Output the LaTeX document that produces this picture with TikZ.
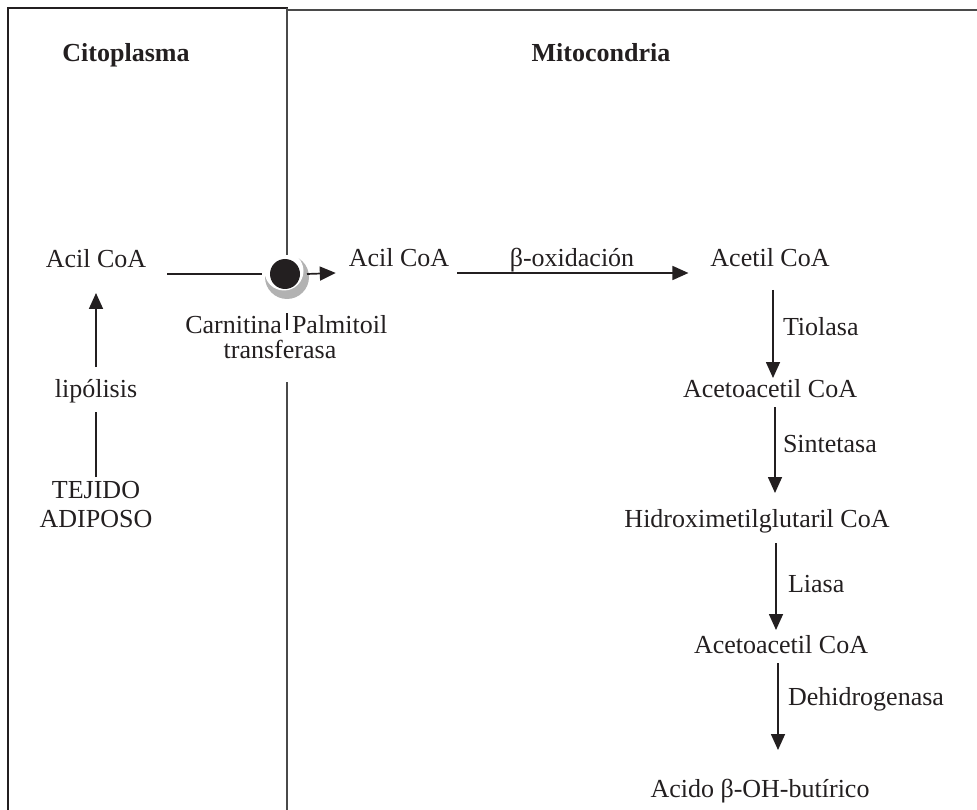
\documentclass[tikz,border=0pt]{standalone}
\usepackage{fontspec}
\setmainfont{Liberation Serif}
\usetikzlibrary{arrows.meta}
\definecolor{ink}{HTML}{231F20}
\definecolor{lineg}{HTML}{4A4A4A}
\begin{document}
\begin{tikzpicture}[x=1pt,y=-1pt,
  every node/.style={inner sep=0pt,outer sep=0pt,text=ink,font=\fontsize{26}{30}\selectfont,anchor=base,text height=18pt,text depth=6pt},
  ttl/.style={font=\fontsize{26}{30}\selectfont\bfseries},
  conn/.style={draw=ink,line width=1.7pt},
  arr/.style={conn,-{Triangle[width=14pt,length=16pt]}},
  frame/.style={line width=2.6pt}]
\useasboundingbox (0,0) rectangle (977,810);
% carnitine transporter (drawn first)
\fill[gray!60] (287,277) circle (22);
\fill[white] (284,271) circle (19.5);
\node[circle,fill=ink,minimum size=30pt,text height=,text depth=,anchor=center] (cpt) at (285,274) {};
% frame
\draw[frame,draw=ink] (8,810) -- (8,8) -- (288,8);
\draw[frame,draw=lineg] (288,10) -- (977,10);
\draw[line width=2pt,draw=lineg] (287,8) -- (287,255);
\draw[line width=1.6pt,draw=ink] (287,313) -- (287,330);
\draw[line width=2pt,draw=lineg] (287,382) -- (287,810);
% titles
\node[ttl] (cito) at (126,62) {Citoplasma};
\node[ttl] (mito) at (601,62) {Mitocondria};
% left column
\node (acil1) at (96,268) {Acil CoA};
\node (lip) at (96,397) {lipólisis};
\node (tej1) at (96,498) {TEJIDO};
\node (tej2) at (96,527) {ADIPOSO};
% transporter label
\node (cl1) [anchor=base east] at (282,333) {Carnitina};
\node (cl1b) [anchor=base west] at (292,333) {Palmitoil};
\node (cl2) at (280,358) {transferasa};
% right chain
\node (acil2) at (399,267) {Acil CoA};
\node (box) at (572,267) {β-oxidación};
\node (acetil) at (770,267) {Acetil CoA};
\node (tio) [anchor=base west] at (783,335) {Tiolasa};
\node (aa1) at (770,397) {Acetoacetil CoA};
\node (sin) [anchor=base west] at (783,452) {Sintetasa};
\node (hmg) at (757,527) {Hidroximetilglutaril CoA};
\node (lia) [anchor=base west] at (788,592) {Liasa};
\node (aa2) at (781,653) {Acetoacetil CoA};
\node (deh) [anchor=base west] at (788,705) {Dehidrogenasa};
\node (aci) at (760,797) {Acido β-OH-butírico};
% connectors
\draw[conn] ([yshift=3pt]tej1.north) -- ([yshift=-9pt]lip.south);
\draw[arr] ([yshift=12pt]lip.north) -- ([yshift=-19pt]acil1.south);
\draw[conn] ([xshift=21pt]acil1.south east) -- ([xshift=-8pt]cpt.west);
\draw[arr] ([xshift=7pt]cpt.east) -- ([xshift=-13pt]acil2.south west);
\draw[arr] ([xshift=8pt]acil2.south east) -- ([xshift=-22pt]acetil.south west);
\draw[arr] ([xshift=3pt,yshift=-17pt]acetil.south) -- ([xshift=3pt,yshift=1pt]aa1.north);
\draw[arr] ([xshift=5pt,yshift=-4pt]aa1.south) -- ([xshift=18pt,yshift=16pt]hmg.north);
\draw[arr] ([xshift=19pt,yshift=-10pt]hmg.south) -- ([xshift=-5pt,yshift=5pt]aa2.north);
\draw[arr] ([xshift=-3pt,yshift=-4pt]aa2.south) -- ([xshift=18pt,yshift=29pt]aci.north);
\end{tikzpicture}
\end{document}
